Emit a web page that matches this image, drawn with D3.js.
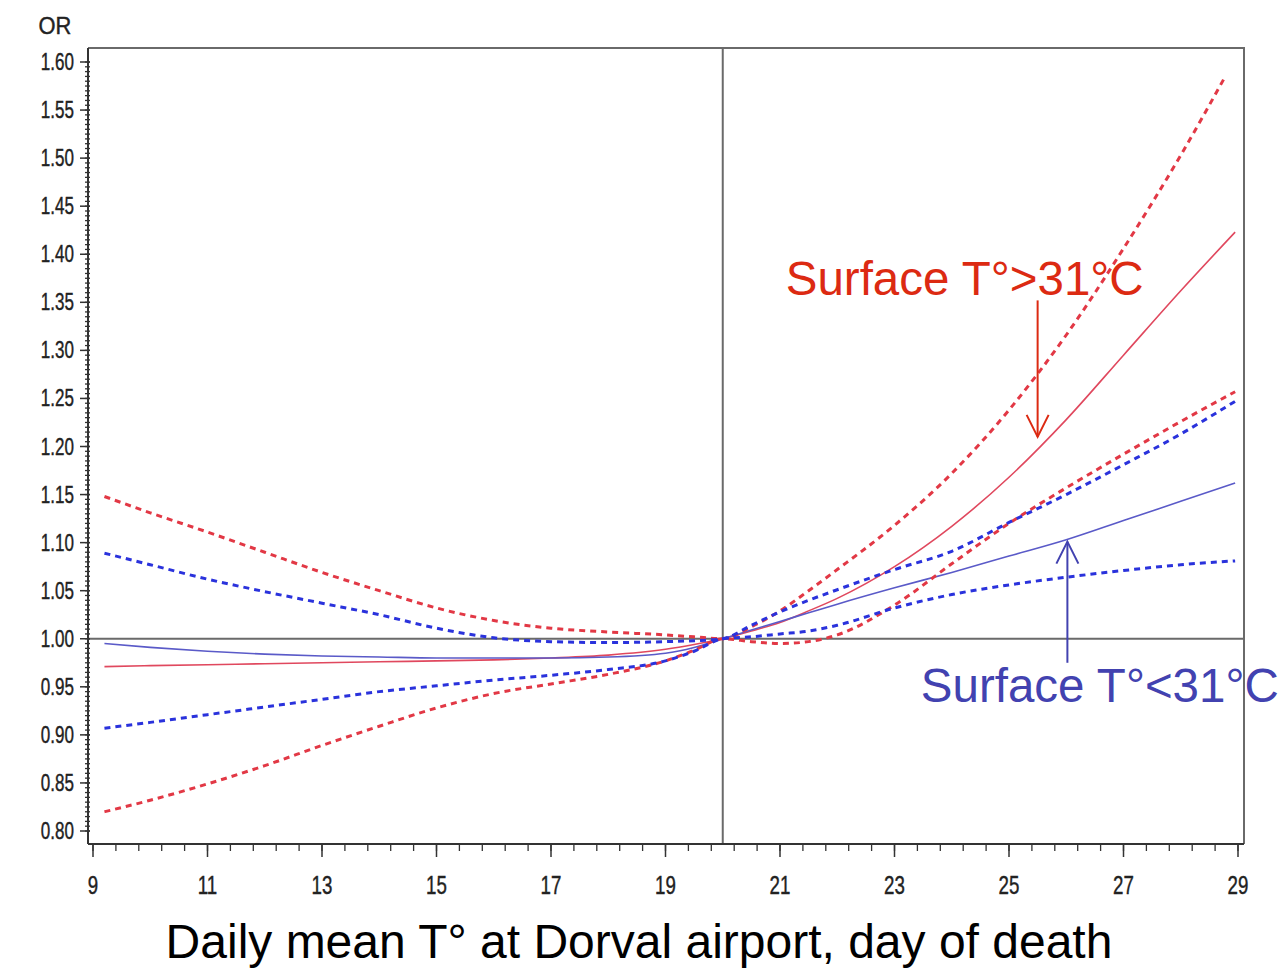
<!DOCTYPE html>
<html>
<head>
<meta charset="utf-8">
<script src="https://cdn.jsdelivr.net/npm/d3@7"></script>
<style>
  html, body { margin: 0; padding: 0; background: #fff; }
  svg { display: block; font-family: "Liberation Sans", Arial, Helvetica, sans-serif; }
</style>
</head>
<body>
<svg id="chart" width="1287" height="968"></svg>
<script>
// ---------- data ----------
const temps = [9.2,10,11,12,13,14,15,16,17,18,19,19.5,20,20.5,21,21.5,22,23,24,25,26,27,28,28.95];
const tempsRedUpper = [9.2,10,11,12,13,14,15,16,17,18,19,19.5,20,20.5,21,21.5,22,23,24,25,26,27,28,28.75];

const redUpper = [1.148,1.131,1.111,1.090,1.069,1.050,1.032,1.019,1.011,1.007,1.004,1.002,1.000,1.0125,1.029,1.050,1.072,1.118,1.172,1.238,1.316,1.406,1.503,1.582];
const redMid   = [0.971,0.972,0.973,0.974,0.975,0.976,0.977,0.978,0.980,0.983,0.989,0.994,1.000,1.008,1.017,1.029,1.042,1.075,1.117,1.168,1.228,1.295,1.362,1.423];
const redLower = [0.820,0.832,0.849,0.868,0.889,0.909,0.928,0.943,0.953,0.963,0.977,0.988,1.000,0.997,0.995,0.997,1.004,1.035,1.078,1.120,1.157,1.192,1.226,1.257];

const blueUpper = [1.089,1.077,1.062,1.049,1.037,1.025,1.011,1.001,0.997,0.996,0.997,0.998,1.000,1.014,1.028,1.040,1.051,1.072,1.091,1.121,1.150,1.181,1.213,1.247];
const blueMid   = [0.995,0.991,0.987,0.984,0.982,0.981,0.980,0.980,0.980,0.981,0.985,0.991,1.000,1.009,1.018,1.027,1.036,1.053,1.069,1.086,1.103,1.123,1.143,1.162];
const blueLower = [0.907,0.913,0.921,0.929,0.937,0.945,0.951,0.957,0.962,0.968,0.977,0.987,1.000,1.002,1.005,1.008,1.014,1.032,1.046,1.056,1.064,1.071,1.077,1.081];

const xTicks = [9,11,13,15,17,19,21,23,25,27,29];
const yTicks = [0.80,0.85,0.90,0.95,1.00,1.05,1.10,1.15,1.20,1.25,1.30,1.35,1.40,1.45,1.50,1.55,1.60];

const refX = 20;
const refY = 1.0;

const yLabel = "OR";
const xTitle = "Daily mean T° at Dorval airport, day of death";

// annotations
const annRedText = "Surface T°>31°C";
const annRedPos = [21.1, 1.358];
const annRedArrow = [25.5, 1.352, 1.21];
const annBlueText = "Surface T°<31°C";
const annBluePos = [23.46, 0.934];
const annBlueArrow = [26.02, 0.975, 1.101];

// ---------- layout ----------
const svg = d3.select("#chart");
const frame = {left: 88, right: 1244, top: 48, bottom: 844};

const x = d3.scaleLinear().domain([9, 29]).range([93, 1238]);
const y = d3.scaleLinear().domain([0.8, 1.6]).range([831, 62]);

const RED = "#dc2a12";
const BLUE = "#4242b0";

// frame (top & right)
svg.append("path")
  .attr("d", `M${frame.left},${frame.top}H${frame.right}V${frame.bottom}`)
  .attr("fill", "none").attr("stroke", "#6a6a6a").attr("stroke-width", 2);

// reference lines
svg.append("line")
  .attr("x1", frame.left).attr("x2", frame.right)
  .attr("y1", y(refY)).attr("y2", y(refY))
  .attr("stroke", "#6a6a6a").attr("stroke-width", 2);
svg.append("line")
  .attr("x1", x(refX)).attr("x2", x(refX))
  .attr("y1", frame.top).attr("y2", frame.bottom)
  .attr("stroke", "#6a6a6a").attr("stroke-width", 2);

// ---------- axes ----------
const yMinor = d3.range(0.8, 1.6001, 0.005);
const gy = svg.append("g");
gy.append("line").attr("x1", frame.left).attr("x2", frame.left)
  .attr("y1", frame.top).attr("y2", frame.bottom)
  .attr("stroke", "#333").attr("stroke-width", 2);
gy.selectAll("line.minor").data(yMinor).enter().append("line")
  .attr("class", "minor")
  .attr("x1", frame.left - 3).attr("x2", frame.left + 2)
  .attr("y1", d => y(d)).attr("y2", d => y(d))
  .attr("stroke", "#333").attr("stroke-width", 1.3);
gy.selectAll("line.major").data(yTicks).enter().append("line")
  .attr("class", "major")
  .attr("x1", frame.left - 8).attr("x2", frame.left + 2)
  .attr("y1", d => y(d)).attr("y2", d => y(d))
  .attr("stroke", "#333").attr("stroke-width", 1.5);
const yLabels = gy.selectAll("text.tl").data(yTicks).enter().append("text")
  .attr("class", "tl")
  .attr("x", 74).attr("y", d => y(d) + 8)
  .attr("text-anchor", "end")
  .attr("font-size", 23).attr("fill", "#222")
  .attr("stroke", "#222").attr("stroke-width", 0.4)
  .text(d => d3.format(".2f")(d));

svg.append("text").attr("x", 55).attr("y", 34).attr("text-anchor", "middle")
  .attr("font-size", 23).attr("fill", "#222").attr("stroke", "#222").attr("stroke-width", 0.4)
  .attr("class", "cond").text(yLabel);

const xMinor = d3.range(9, 29.001, 0.4);
const gx = svg.append("g");
gx.append("line").attr("x1", frame.left).attr("x2", frame.right)
  .attr("y1", frame.bottom).attr("y2", frame.bottom)
  .attr("stroke", "#333").attr("stroke-width", 2);
gx.selectAll("line.minor").data(xMinor).enter().append("line")
  .attr("x1", d => x(d)).attr("x2", d => x(d))
  .attr("y1", frame.bottom).attr("y2", frame.bottom + 7)
  .attr("stroke", "#333").attr("stroke-width", 1.3);
gx.selectAll("line.major").data(xTicks).enter().append("line")
  .attr("x1", d => x(d)).attr("x2", d => x(d))
  .attr("y1", frame.bottom).attr("y2", frame.bottom + 13)
  .attr("stroke", "#333").attr("stroke-width", 1.5);
const xLabels = gx.selectAll("text").data(xTicks).enter().append("text")
  .attr("x", d => x(d)).attr("y", 894)
  .attr("text-anchor", "middle")
  .attr("font-size", 26).attr("fill", "#222")
  .attr("stroke", "#222").attr("stroke-width", 0.4)
  .text(d => d);

// condense tick labels
function condense(sel, f) {
  sel.each(function() {
    const w = this.getComputedTextLength();
    d3.select(this).attr("textLength", w * f).attr("lengthAdjust", "spacingAndGlyphs");
  });
}
condense(yLabels, 0.74);
condense(xLabels, 0.72);
condense(svg.selectAll("text.cond"), 0.95);

svg.append("text").attr("x", 639).attr("y", 958).attr("text-anchor", "middle")
  .attr("font-size", 48).attr("fill", "#000").text(xTitle);

// ---------- series ----------
const line = d3.line().x(d => x(d[0])).y(d => y(d[1])).curve(d3.curveMonotoneX);
const series = [
  {t: temps, v: redMid, color: "#e0485e", w: 1.6, dash: null},
  {t: temps, v: blueMid, color: "#5a5ac8", w: 1.6, dash: null},
  {t: tempsRedUpper, v: redUpper, color: "#e23845", w: 3, dash: "6,5"},
  {t: temps, v: redLower, color: "#e23845", w: 3, dash: "6,5"},
  {t: temps, v: blueUpper, color: "#2a32dc", w: 3, dash: "6,5"},
  {t: temps, v: blueLower, color: "#2a32dc", w: 3, dash: "6,5"}
];
series.forEach(s => {
  svg.append("path")
    .datum(s.t.map((t, i) => [t, s.v[i]]))
    .attr("d", line)
    .attr("fill", "none")
    .attr("stroke", s.color)
    .attr("stroke-width", s.w)
    .attr("stroke-dasharray", s.dash);
});

// ---------- annotations ----------
function arrow(a, color) {
  const ax = x(a[0]), y0 = y(a[1]), y1 = y(a[2]);
  const dir = y1 > y0 ? 1 : -1;
  svg.append("line").attr("x1", ax).attr("x2", ax).attr("y1", y0).attr("y2", y1)
    .attr("stroke", color).attr("stroke-width", 2);
  svg.append("path")
    .attr("d", `M${ax - 11},${y1 - dir * 22}L${ax},${y1}L${ax + 11},${y1 - dir * 22}`)
    .attr("fill", "none").attr("stroke", color).attr("stroke-width", 2);
}
arrow(annRedArrow, RED);
arrow(annBlueArrow, BLUE);

svg.append("text").attr("x", x(annRedPos[0])).attr("y", y(annRedPos[1]))
  .attr("font-size", 47.5).attr("fill", RED).text(annRedText);
svg.append("text").attr("x", x(annBluePos[0])).attr("y", y(annBluePos[1]))
  .attr("font-size", 47.5).attr("fill", BLUE).text(annBlueText);
</script>
</body>
</html>
